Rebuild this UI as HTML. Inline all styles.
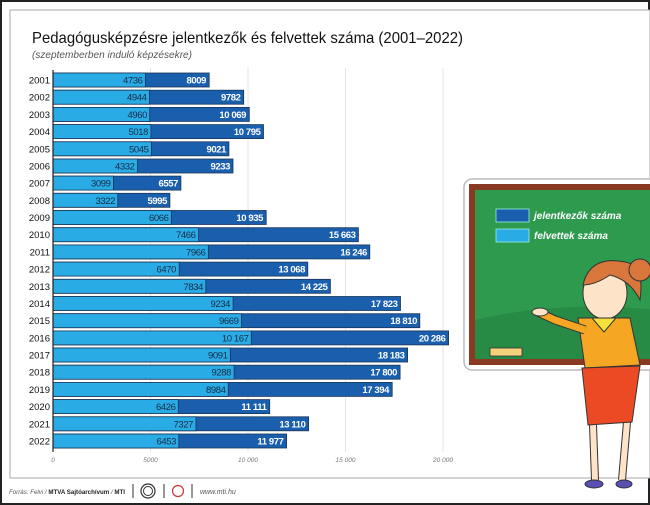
<!DOCTYPE html>
<html><head><meta charset="utf-8"><style>
html,body{margin:0;padding:0;background:#fff}
svg{display:block}
text{font-family:"Liberation Sans",sans-serif}
.y{font-size:9.5px;fill:#111;text-anchor:end}
.l{font-size:9.5px;fill:#1a2a44;text-anchor:end;letter-spacing:-0.4px}
.d{font-size:9.5px;fill:#fff;font-weight:bold;text-anchor:end;letter-spacing:-0.4px}
.t{font-size:6.5px;fill:#777;font-style:italic;text-anchor:middle}
</style></head><body>
<svg width="650" height="505" viewBox="0 0 650 505" xmlns="http://www.w3.org/2000/svg">
<rect x="1" y="1" width="648" height="503" fill="#fff" stroke="#222" stroke-width="2"/>
<rect x="10" y="10" width="640" height="468" fill="#fff" stroke="#aaa" stroke-width="1"/>
<text x="32" y="43" font-size="16" fill="#111" textLength="431" lengthAdjust="spacingAndGlyphs">Pedagógusképzésre jelentkezők és felvettek száma (2001–2022)</text>
<text x="32" y="58" font-size="10" fill="#555" font-style="italic" textLength="160" lengthAdjust="spacingAndGlyphs">(szeptemberben induló képzésekre)</text>
<g stroke="#e6e6e6" stroke-width="1">
<line x1="150.5" y1="68" x2="150.5" y2="452"/><line x1="248" y1="68" x2="248" y2="452"/><line x1="345.5" y1="68" x2="345.5" y2="452"/><line x1="443" y1="68" x2="443" y2="452"/>
</g>
<g stroke="#1b3556" stroke-width="0.8">
<rect x="53" y="73" width="156.2" height="14" fill="#1a5fae"/><rect x="53" y="73" width="92.4" height="14" fill="#29abe6"/>
<rect x="53" y="90.2" width="190.7" height="14" fill="#1a5fae"/><rect x="53" y="90.2" width="96.4" height="14" fill="#29abe6"/>
<rect x="53" y="107.4" width="196.3" height="14" fill="#1a5fae"/><rect x="53" y="107.4" width="96.7" height="14" fill="#29abe6"/>
<rect x="53" y="124.6" width="210.5" height="14" fill="#1a5fae"/><rect x="53" y="124.6" width="97.9" height="14" fill="#29abe6"/>
<rect x="53" y="141.8" width="175.9" height="14" fill="#1a5fae"/><rect x="53" y="141.8" width="98.4" height="14" fill="#29abe6"/>
<rect x="53" y="159" width="180" height="14" fill="#1a5fae"/><rect x="53" y="159" width="84.5" height="14" fill="#29abe6"/>
<rect x="53" y="176.1" width="127.9" height="14" fill="#1a5fae"/><rect x="53" y="176.1" width="60.4" height="14" fill="#29abe6"/>
<rect x="53" y="193.3" width="116.9" height="14" fill="#1a5fae"/><rect x="53" y="193.3" width="64.8" height="14" fill="#29abe6"/>
<rect x="53" y="210.5" width="213.2" height="14" fill="#1a5fae"/><rect x="53" y="210.5" width="118.3" height="14" fill="#29abe6"/>
<rect x="53" y="227.7" width="305.4" height="14" fill="#1a5fae"/><rect x="53" y="227.7" width="145.6" height="14" fill="#29abe6"/>
<rect x="53" y="244.9" width="316.8" height="14" fill="#1a5fae"/><rect x="53" y="244.9" width="155.3" height="14" fill="#29abe6"/>
<rect x="53" y="262.1" width="254.8" height="14" fill="#1a5fae"/><rect x="53" y="262.1" width="126.2" height="14" fill="#29abe6"/>
<rect x="53" y="279.3" width="277.4" height="14" fill="#1a5fae"/><rect x="53" y="279.3" width="152.8" height="14" fill="#29abe6"/>
<rect x="53" y="296.5" width="347.5" height="14" fill="#1a5fae"/><rect x="53" y="296.5" width="180.1" height="14" fill="#29abe6"/>
<rect x="53" y="313.7" width="366.8" height="14" fill="#1a5fae"/><rect x="53" y="313.7" width="188.5" height="14" fill="#29abe6"/>
<rect x="53" y="330.9" width="395.6" height="14" fill="#1a5fae"/><rect x="53" y="330.9" width="198.3" height="14" fill="#29abe6"/>
<rect x="53" y="348" width="354.6" height="14" fill="#1a5fae"/><rect x="53" y="348" width="177.3" height="14" fill="#29abe6"/>
<rect x="53" y="365.2" width="347.1" height="14" fill="#1a5fae"/><rect x="53" y="365.2" width="181.1" height="14" fill="#29abe6"/>
<rect x="53" y="382.4" width="339.2" height="14" fill="#1a5fae"/><rect x="53" y="382.4" width="175.2" height="14" fill="#29abe6"/>
<rect x="53" y="399.6" width="216.7" height="14" fill="#1a5fae"/><rect x="53" y="399.6" width="125.3" height="14" fill="#29abe6"/>
<rect x="53" y="416.8" width="255.6" height="14" fill="#1a5fae"/><rect x="53" y="416.8" width="142.9" height="14" fill="#29abe6"/>
<rect x="53" y="434" width="233.6" height="14" fill="#1a5fae"/><rect x="53" y="434" width="125.8" height="14" fill="#29abe6"/>
</g>
<line x1="53" y1="70" x2="53" y2="452" stroke="#222" stroke-width="1.2"/>
<g class="y">
<text x="50" y="83.5">2001</text><text x="50" y="100.7">2002</text><text x="50" y="117.9">2003</text><text x="50" y="135.1">2004</text><text x="50" y="152.3">2005</text><text x="50" y="169.5">2006</text><text x="50" y="186.6">2007</text><text x="50" y="203.8">2008</text><text x="50" y="221">2009</text><text x="50" y="238.2">2010</text><text x="50" y="255.4">2011</text><text x="50" y="272.6">2012</text><text x="50" y="289.8">2013</text><text x="50" y="307">2014</text><text x="50" y="324.2">2015</text><text x="50" y="341.4">2016</text><text x="50" y="358.5">2017</text><text x="50" y="375.7">2018</text><text x="50" y="392.9">2019</text><text x="50" y="410.1">2020</text><text x="50" y="427.3">2021</text><text x="50" y="444.5">2022</text>
</g>
<g class="l">
<text x="142.5" y="83.5">4736</text><text x="146.5" y="100.7">4944</text><text x="147" y="117.9">4960</text><text x="148" y="135.1">5018</text><text x="148.5" y="152.3">5045</text><text x="134.5" y="169.5">4332</text><text x="110.5" y="186.6">3099</text><text x="115" y="203.8">3322</text><text x="168.5" y="221">6066</text><text x="195.5" y="238.2">7466</text><text x="205.5" y="255.4">7966</text><text x="176" y="272.6">6470</text><text x="203" y="289.8">7834</text><text x="230" y="307">9234</text><text x="238.5" y="324.2">9669</text><text x="248.5" y="341.4">10 167</text><text x="227.5" y="358.5">9091</text><text x="231" y="375.7">9288</text><text x="225.5" y="392.9">8984</text><text x="175.5" y="410.1">6426</text><text x="193" y="427.3">7327</text><text x="176" y="444.5">6453</text>
</g>
<g class="d">
<text x="206" y="83.5">8009</text><text x="240.5" y="100.7">9782</text><text x="246" y="117.9">10 069</text><text x="260.5" y="135.1">10 795</text><text x="226" y="152.3">9021</text><text x="230" y="169.5">9233</text><text x="178" y="186.6">6557</text><text x="167" y="203.8">5995</text><text x="263" y="221">10 935</text><text x="355.5" y="238.2">15 663</text><text x="367" y="255.4">16 246</text><text x="305" y="272.6">13 068</text><text x="327.5" y="289.8">14 225</text><text x="397.5" y="307">17 823</text><text x="417" y="324.2">18 810</text><text x="445.5" y="341.4">20 286</text><text x="404.5" y="358.5">18 183</text><text x="397" y="375.7">17 800</text><text x="389" y="392.9">17 394</text><text x="266.5" y="410.1">11 111</text><text x="305.5" y="427.3">13 110</text><text x="283.5" y="444.5">11 977</text>
</g>
<g class="t"><text x="53" y="462">0</text><text x="150.5" y="462">5000</text><text x="248" y="462">10 000</text><text x="345.5" y="462">15 000</text><text x="443" y="462">20 000</text></g>
<text x="9" y="494" font-size="6.5" fill="#555" font-style="italic" textLength="116" lengthAdjust="spacingAndGlyphs">Forrás: Felvi / <tspan font-weight="bold" font-style="normal" fill="#222">MTVA Sajtóarchívum</tspan> / <tspan font-weight="bold" font-style="normal" fill="#222">MTI</tspan></text>
<line x1="133" y1="484" x2="133" y2="498" stroke="#333"/>
<circle cx="148" cy="491" r="7" fill="none" stroke="#333" stroke-width="1.2"/><circle cx="148" cy="491" r="4.5" fill="none" stroke="#333"/>
<line x1="164" y1="484" x2="164" y2="498" stroke="#333"/>
<circle cx="178" cy="491" r="5.5" fill="none" stroke="#c33" stroke-width="1.2"/>
<line x1="192" y1="484" x2="192" y2="498" stroke="#333"/>
<text x="200" y="494" font-size="7" fill="#555" font-style="italic">www.mti.hu</text>
<!-- chalkboard -->
<rect x="464" y="179" width="200" height="191" rx="8" fill="#fff" stroke="#bbb" stroke-width="1.5"/>
<rect x="469" y="184" width="190" height="181" fill="#8a3a22"/>
<rect x="475" y="190" width="180" height="169" fill="#2d9a4e"/>
<path d="M475 320 Q560 300 655 310 L655 359 L475 359Z" fill="#278a45"/>
<rect x="496" y="209" width="33" height="13" fill="#1a5fae" stroke="#9ed" stroke-width="0.8"/>
<rect x="496" y="229" width="33" height="13" fill="#29abe6" stroke="#9ed" stroke-width="0.8"/>
<text x="534" y="219" font-size="10" fill="#fff" font-style="italic" font-weight="bold">jelentkezők száma</text>
<text x="534" y="239" font-size="10" fill="#fff" font-style="italic" font-weight="bold">felvettek száma</text>
<rect x="490" y="348" width="32" height="8" fill="#f5d27a" stroke="#333" stroke-width="0.8"/>
<!-- teacher -->
<path d="M593 425 L595 480 M627 422 L622 480" stroke="#333" stroke-width="8"/>
<path d="M593 425 L595 480 M627 422 L622 480" stroke="#fde3c8" stroke-width="6"/>
<ellipse cx="605" cy="293" rx="22" ry="26" fill="#fde3c8" stroke="#333"/>
<path d="M583 285 Q590 255 625 262 Q645 265 640 300 Q630 280 610 275 Q595 285 583 285Z" fill="#d9763c" stroke="#333"/>
<circle cx="640" cy="270" r="11" fill="#d9763c" stroke="#333"/>
<path d="M578 318 L630 318 L640 365 L585 368Z" fill="#f5a623" stroke="#333"/>
<path d="M592 318 L604 332 L616 318Z" fill="#f2e13a" stroke="#333"/>
<path d="M585 330 L555 320 L538 312" stroke="#333" stroke-width="9" fill="none"/>
<path d="M585 330 L555 320 L540 313" stroke="#f5a623" stroke-width="7" fill="none"/>
<ellipse cx="540" cy="312" rx="8" ry="4" fill="#fde3c8" stroke="#333"/>
<path d="M582 368 L640 366 L632 422 L588 425Z" fill="#ec4a24" stroke="#333"/>
<ellipse cx="594" cy="484" rx="9" ry="4" fill="#5a4fb5" stroke="#333"/>
<ellipse cx="624" cy="484" rx="8" ry="4" fill="#5a4fb5" stroke="#333"/>
</svg>
</body></html>
